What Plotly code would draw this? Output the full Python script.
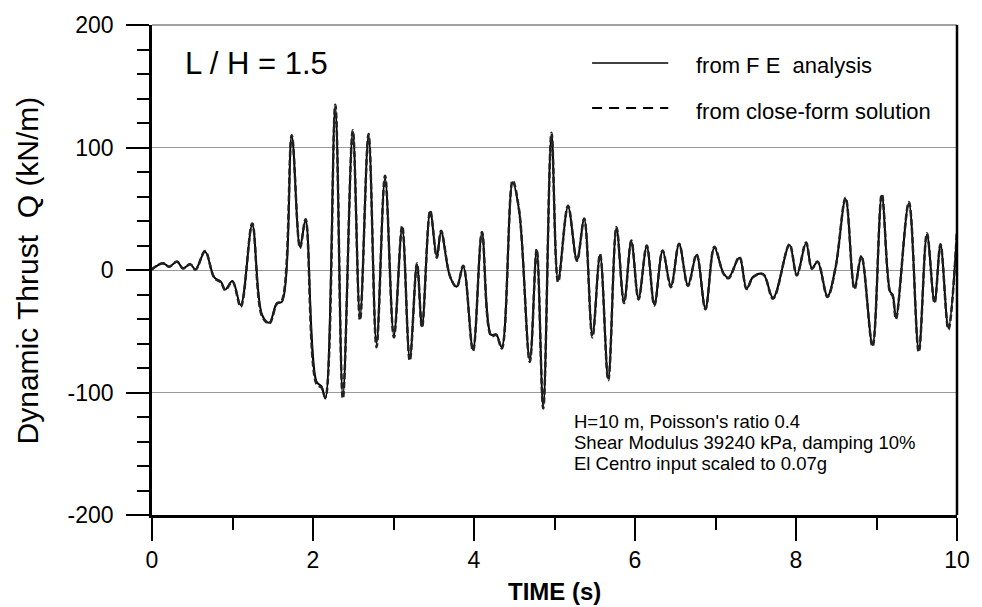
import plotly.graph_objects as go

# ---- data ----
time_s = [0.0, 0.016, 0.139, 0.213, 0.311, 0.385, 0.475, 0.541, 0.659, 0.774, 0.856, 0.909, 0.999,
          1.102, 1.245, 1.368, 1.458, 1.552, 1.613, 1.736, 1.839, 1.908, 2.043, 2.105, 2.154, 2.277,
          2.371, 2.494, 2.584, 2.690, 2.789, 2.895, 3.005, 3.108, 3.202, 3.292, 3.354, 3.456, 3.538,
          3.591, 3.702, 3.784, 3.866, 3.988, 4.099, 4.214, 4.275, 4.345, 4.480, 4.562, 4.693, 4.779,
          4.860, 4.963, 5.045, 5.168, 5.279, 5.369, 5.471, 5.566, 5.668, 5.770, 5.864, 5.954, 6.044,
          6.146, 6.241, 6.343, 6.446, 6.548, 6.658, 6.765, 6.875, 6.986, 7.099, 7.162, 7.297, 7.387,
          7.469, 7.592, 7.715, 7.919, 8.010, 8.125, 8.198, 8.268, 8.391, 8.493, 8.616, 8.727, 8.812,
          8.951, 9.066, 9.169, 9.200, 9.242, 9.402, 9.525, 9.627, 9.721, 9.795, 9.893, 10.0]

thrust_fe = [0, 1.4, 5.4, 2.7, 6.8, 1.4, 4.6, 0.5, 15, -6, -9.5, -16, -9,
             -28.6, 36.7, -36.7, -43, -27, -26, 109, 19, 40.8, -91, -95, -105, 133,
             -103, 113, -38, 110, -60, 75, -53, 34, -72, 4.6, -46, 47.6, 10.9,
             31.3, -5.4, -13.6, 2.7, -65, 30, -53, -52.5, -63, 71.6, 47.6, -73.5, 16.3,
             -111.6, 110.7, -8, 51.7, 8.2, 41.4, -53, 12.2, -88.4, 34, -25.9, 23, -23,
             19, -28, 15.5, -13, 21, -12.2, 12.2, -31.3, 18.2, -2.7, -6.3, 10, -15,
             -5.4, -3.3, -22.6, 20.4, -4, 21.8, 1.4, 6.8, -21.2, 2.7, 58, -14.4, 10.9,
             -61.2, 60.7, -17.7, -20, -39, 54.4, -65.3, 29, -25.9, 20.4, -47, 31]

thrust_cf = [0, 1.5, 5.6, 2.6, 7, 1.2, 4.8, 0.3, 15.5, -6.5, -10, -16.5, -9.5,
             -30, 38, -38, -43.5, -27.5, -25, 110, 18, 41.5, -93, -96, -104, 135,
             -105, 114, -41, 111, -63, 77, -55, 36, -74, 5.5, -47, 48.5, 10,
             32, -5, -14, 3.5, -66, 31, -54, -53, -64, 73, 48, -75, 17,
             -113, 112, -10, 52.5, 7.5, 42, -55, 13, -90, 35, -27, 24, -24,
             20, -29, 16, -14, 21.5, -13, 12.8, -32, 19, -3, -6.8, 10.5, -15.5,
             -5.8, -3.5, -23.5, 21, -4.5, 22.5, 1.0, 7, -22, 2.5, 59, -15.5, 11.5,
             -62.5, 62, -18.5, -21, -40, 55.5, -67, 30, -27, 21, -48.5, 32]

x_ticks = [0, 2, 4, 6, 8, 10]
y_ticks = [-200, -100, 0, 100, 200]
y_tick_text = ["-200", "-100", "0", "100", "200"]

FONT = "Liberation Sans, Arial, sans-serif"

fig = go.Figure()
fig.add_trace(go.Scatter(x=time_s, y=thrust_fe, mode="lines", name="from F E  analysis",
                         line=dict(color="black", width=2, shape="spline", smoothing=1.0),
                         showlegend=False, hoverinfo="skip"))
fig.add_trace(go.Scatter(x=time_s, y=thrust_cf, mode="lines", name="from close-form solution",
                         line=dict(color="#222222", width=2.5, dash="6px,3px", shape="spline", smoothing=1.0),
                         showlegend=False, hoverinfo="skip"))

fig.update_layout(
    width=982, height=607,
    margin=dict(l=152, r=16, t=25, b=92),
    paper_bgcolor="white", plot_bgcolor="white",
    font=dict(family=FONT, size=23, color="black"),
    xaxis=dict(range=[0, 10], tickvals=x_ticks, ticks="outside", ticklen=23, tickwidth=2,
               tickcolor="black", showline=True, linewidth=2.5, linecolor="black",
               showgrid=False, zeroline=False, tickfont=dict(family=FONT, size=23),
               minor=dict(dtick=1, ticks="outside", ticklen=12, tickwidth=2, tickcolor="black", showgrid=False)),
    yaxis=dict(range=[-200, 200], tickvals=y_ticks, ticktext=y_tick_text, ticks="outside", ticklen=23,
               tickwidth=2, tickcolor="black", showline=True, linewidth=2.5, linecolor="black",
               showgrid=True, gridcolor="#9a9a9a", gridwidth=1, zeroline=False,
               tickfont=dict(family=FONT, size=23), ticklabelstandoff=8,
               minor=dict(dtick=20, ticks="outside", ticklen=12, tickwidth=2, tickcolor="black", showgrid=False)),
    shapes=[
        dict(type="line", xref="paper", yref="paper", x0=0, x1=1, y0=1, y1=1,
             line=dict(color="#444444", width=1)),
        dict(type="line", xref="paper", yref="paper", x0=1, x1=1, y0=0, y1=1,
             line=dict(color="black", width=2.5)),
        # legend samples
        dict(type="line", xref="paper", yref="paper", x0=0.5467, x1=0.6413, y0=0.9224, y1=0.9224,
             line=dict(color="black", width=1.5)),
        dict(type="line", xref="paper", yref="paper", x0=0.5467, x1=0.6413, y0=0.8306, y1=0.8306,
             line=dict(color="black", width=1.8, dash="10px,7px")),
    ],
)

ann = []
ann.append(dict(text="L / H = 1.5", x=0.0381, y=0.9218, xref="paper", yref="paper",
                xanchor="left", yanchor="middle", showarrow=False, font=dict(family=FONT, size=31)))
ann.append(dict(text="from F E\u00a0 analysis", x=0.6732, y=0.9176, xref="paper", yref="paper",
                xanchor="left", yanchor="middle", showarrow=False, font=dict(family=FONT, size=22)))
ann.append(dict(text="from close-form solution", x=0.6732, y=0.8231, xref="paper", yref="paper",
                xanchor="left", yanchor="middle", showarrow=False, font=dict(family=FONT, size=22)))
info = ["H=10 m, Poisson's ratio 0.4", "Shear Modulus 39240 kPa, damping 10%", "El Centro input scaled to 0.07g"]
info_y = [0.1906, 0.1478, 0.1049]
for s, yy in zip(info, info_y):
    ann.append(dict(text=s, x=0.5221, y=yy, xref="paper", yref="paper", xanchor="left", yanchor="middle",
                    showarrow=False, font=dict(family=FONT, size=18.5)))
ann.append(dict(text="<b>TIME (s)</b>", x=0.5, y=-0.1565, xref="paper", yref="paper",
                xanchor="center", yanchor="middle", showarrow=False, font=dict(family=FONT, size=24)))
ann.append(dict(text="Dynamic Thrust\u00a0 Q (kN/m)", x=-0.1547, y=0.5, xref="paper", yref="paper",
                xanchor="center", yanchor="middle", textangle=-90, showarrow=False,
                font=dict(family=FONT, size=30)))
fig.update_layout(annotations=ann)

fig.write_html("out.html")
